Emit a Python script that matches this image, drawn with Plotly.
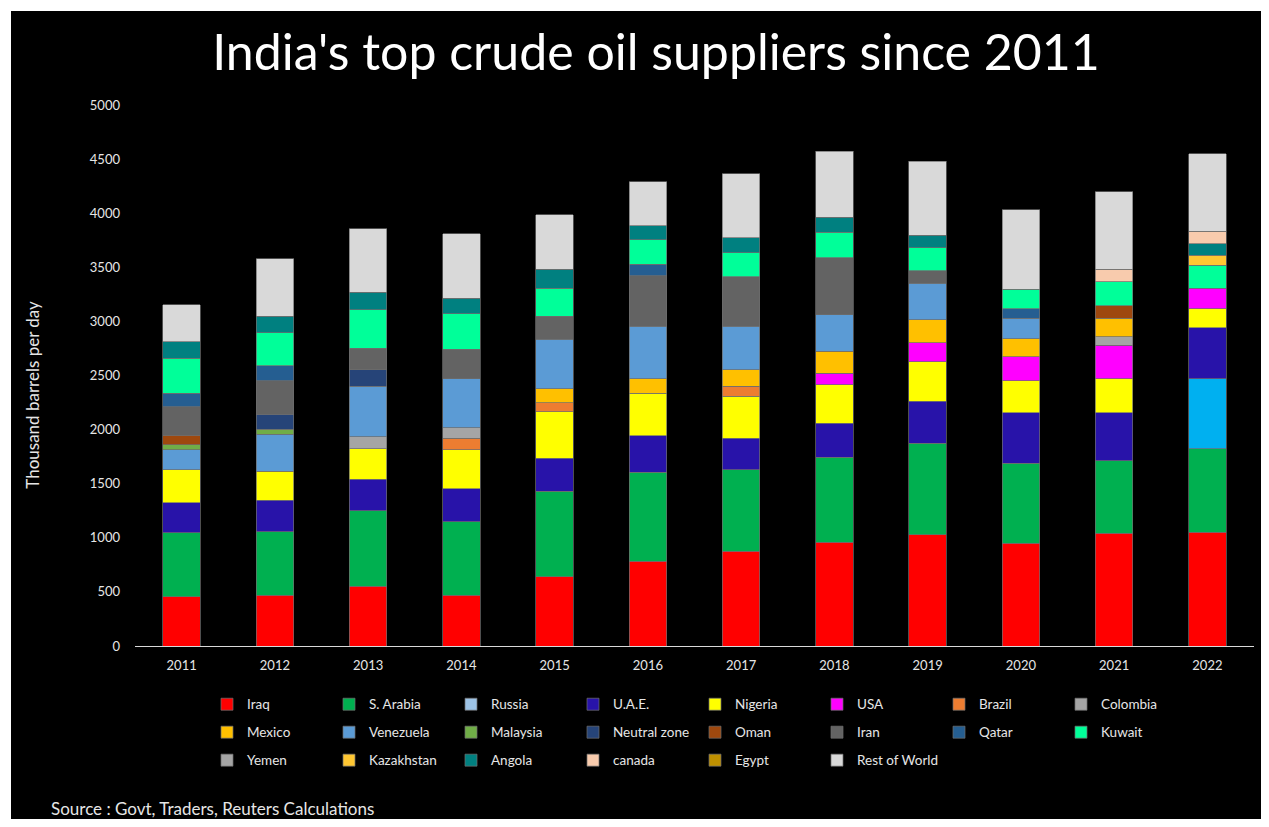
import plotly.graph_objects as go

years = ["2011", "2012", "2013", "2014", "2015", "2016", "2017", "2018", "2019", "2020", "2021", "2022"]

iraq = [455, 470, 550, 470, 642, 784, 876, 959, 1030, 950, 1043, 1052]
s_arabia = [591, 585, 702, 678, 786, 823, 752, 786, 844, 737, 668, 773]
russia = [0, 0, 0, 0, 0, 0, 0, 0, 0, 0, 0, 647]
uae = [277, 293, 290, 305, 305, 338, 293, 314, 389, 468, 444, 469]
nigeria = [308, 268, 283, 363, 434, 389, 388, 355, 366, 296, 317, 175]
usa = [0, 0, 0, 0, 0, 0, 0, 107, 173, 222, 308, 191]
brazil = [0, 0, 0, 105, 83, 0, 92, 0, 0, 0, 0, 0]
colombia = [0, 0, 108, 95, 0, 0, 0, 0, 0, 0, 80, 0]
mexico = [0, 0, 0, 0, 127, 138, 154, 201, 213, 166, 167, 0]
venezuela = [185, 342, 468, 456, 459, 481, 398, 339, 338, 188, 0, 0]
malaysia = [46, 46, 0, 0, 0, 0, 0, 0, 0, 0, 0, 0]
neutral_zone = [0, 139, 154, 0, 0, 0, 0, 0, 0, 0, 0, 0]
oman = [86, 0, 0, 0, 0, 0, 0, 0, 0, 0, 117, 0]
iran = [265, 308, 197, 271, 212, 471, 462, 527, 117, 0, 0, 0]
qatar = [121, 138, 0, 0, 0, 105, 0, 0, 0, 89, 0, 0]
kuwait = [326, 305, 355, 330, 259, 225, 219, 234, 213, 179, 222, 212]
yemen = [0, 0, 0, 0, 0, 0, 0, 0, 0, 0, 0, 0]
kazakhstan = [0, 0, 0, 0, 0, 0, 0, 0, 0, 0, 0, 93]
angola = [154, 154, 163, 139, 175, 129, 141, 141, 114, 0, 0, 105]
canada = [0, 0, 0, 0, 0, 0, 0, 0, 0, 0, 116, 117]
egypt = [0, 0, 0, 0, 0, 0, 0, 0, 0, 0, 0, 0]
rest_of_world = [339, 530, 586, 597, 503, 407, 589, 610, 684, 736, 715, 715]

series = [
    ("Iraq", iraq, "#FF0000"),
    ("S. Arabia", s_arabia, "#00B050"),
    ("Russia", russia, ["#9DC3E6"] * 11 + ["#00B0F0"]),
    ("U.A.E.", uae, "#2813A9"),
    ("Nigeria", nigeria, "#FFFF00"),
    ("USA", usa, "#FF00FF"),
    ("Brazil", brazil, "#ED7D31"),
    ("Colombia", colombia, "#A5A5A5"),
    ("Mexico", mexico, "#FFC000"),
    ("Venezuela", venezuela, "#5B9BD5"),
    ("Malaysia", malaysia, "#70AD47"),
    ("Neutral zone", neutral_zone, "#264478"),
    ("Oman", oman, "#9E480E"),
    ("Iran", iran, "#636363"),
    ("Qatar", qatar, "#255E91"),
    ("Kuwait", kuwait, "#00FF99"),
    ("Yemen", yemen, "#A5A5A5"),
    ("Kazakhstan", kazakhstan, "#FFC732"),
    ("Angola", angola, "#008080"),
    ("canada", canada, "#F8CBAD"),
    ("Egypt", egypt, "#BF9000"),
    ("Rest of World", rest_of_world, "#D9D9D9"),
]

FONT = "Lato"
TXT = "#E6E6E6"

fig = go.Figure()
for i, (name, vals, color) in enumerate(series):
    leg = ["legend", "legend2", "legend3"][i // 8]
    fig.add_trace(go.Bar(
        x=years,
        y=[v if v else None for v in vals],
        name=name,
        legend=leg,
        marker=dict(color=color, line=dict(color="rgba(110,110,110,0.9)", width=0.8)),
    ))

# figure geometry (figure pixels; the page adds an 8px body margin)
W, H = 1253, 811
L, R, T, B = 127, 7, 97, 172.5
pw = W - L - R
ph = H - T - B

def px_x(px):
    return (px - L) / pw

def px_y(py):
    return (H - B - py) / ph

legend_common = dict(
    orientation="h",
    entrywidth=77,
    entrywidthmode="pixels",
    traceorder="normal",
    bgcolor="rgba(0,0,0,0)",
    font=dict(family=FONT, size=13.5, color=TXT),
    xanchor="left",
    yanchor="middle",
    itemclick=False,
    itemdoubleclick=False,
    tracegroupgap=0,
)

fig.update_layout(
    width=W,
    height=H,
    barmode="stack",
    bargap=0.6,
    paper_bgcolor="white",
    plot_bgcolor="black",
    margin=dict(l=L, r=R, t=T, b=B, autoexpand=False),
    font=dict(family=FONT, color=TXT),
    title=dict(
        text="India's top crude oil suppliers since 2011",
        x=648 / W,
        xanchor="center",
        y=1 - 44 / H,
        yanchor="middle",
        font=dict(family=FONT, size=50, color="white"),
    ),
    xaxis=dict(
        showgrid=False,
        showline=True,
        linecolor="#D9D9D9",
        linewidth=1,
        ticks="",
        tickfont=dict(family=FONT, size=13, color=TXT),
        ticklabelstandoff=7,
        zeroline=False,
    ),
    yaxis=dict(
        range=[0, 5000],
        dtick=500,
        showgrid=False,
        showline=False,
        zeroline=False,
        ticks="",
        tickfont=dict(family=FONT, size=13, color=TXT),
        ticklabelstandoff=14,
    ),
    legend=dict(legend_common, x=px_x(199), y=px_y(697)),
    legend2=dict(legend_common, x=px_x(199), y=px_y(725)),
    legend3=dict(legend_common, x=px_x(199), y=px_y(753)),
    shapes=[dict(
        type="rect", xref="paper", yref="paper", layer="below",
        x0=px_x(3), x1=px_x(W + 5), y0=px_y(H + 5), y1=px_y(3),
        fillcolor="black", line=dict(width=0),
    )],
    annotations=[
        dict(
            text="Thousand barrels per day",
            xref="paper", yref="paper",
            x=px_x(25), y=px_y(387),
            xanchor="center", yanchor="middle",
            textangle=-90,
            showarrow=False,
            font=dict(family=FONT, size=17, color=TXT),
        ),
        dict(
            text="Source : Govt, Traders, Reuters Calculations",
            xref="paper", yref="paper",
            x=px_x(41), y=px_y(801),
            xanchor="left", yanchor="middle",
            showarrow=False,
            font=dict(family=FONT, size=17, color=TXT),
        ),
    ],
)

fig.write_html("out.html")
